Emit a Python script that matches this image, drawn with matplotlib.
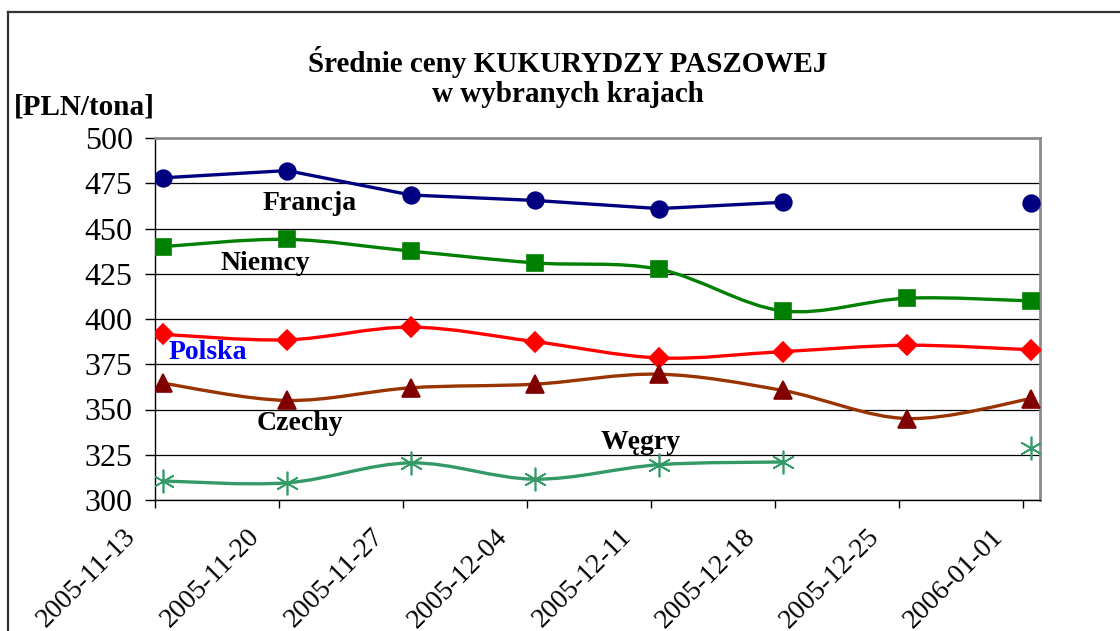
import datetime as dt
import matplotlib
matplotlib.use("Agg")
import matplotlib.pyplot as plt
import matplotlib.dates as mdates
from matplotlib.path import Path
from matplotlib.patches import PathPatch
from matplotlib.lines import Line2D
from matplotlib.transforms import ScaledTranslation

# dane (tygodniowe, PLN/tona)
daty = [dt.date(2005, 11, 13) + dt.timedelta(days=7 * i) for i in range(8)]
francja = [478, 482, 468.5, 465.5, 461, 464.5, None, 464]
niemcy = [440, 444, 437.5, 431, 427.5, 404.5, 411.5, 410]
polska = [391.5, 388.5, 395.5, 387.5, 378.5, 382, 385.5, 383]
czechy = [364.5, 355, 362, 364, 369.5, 360.5, 345, 356]
wegry = [310.5, 309.5, 320.5, 311.5, 319.5, 321, None, 328.5]

serif = "Liberation Serif"
OFFSET = 0.45  # punkty lekko na prawo od znacznikow osi


def krzywa(xs, ys):
    # gladka linia jak w Excelu (Catmull-Rom jako Bezier)
    verts = [(xs[0], ys[0])]
    codes = [Path.MOVETO]
    n = len(xs)
    for i in range(n - 1):
        x0, y0 = xs[max(i - 1, 0)], ys[max(i - 1, 0)]
        x1, y1 = xs[i], ys[i]
        x2, y2 = xs[i + 1], ys[i + 1]
        x3, y3 = xs[min(i + 2, n - 1)], ys[min(i + 2, n - 1)]
        verts += [(x1 + (x2 - x0) / 6, y1 + (y2 - y0) / 6),
                  (x2 - (x3 - x1) / 6, y2 - (y3 - y1) / 6),
                  (x2, y2)]
        codes += [Path.CURVE4] * 3
    return Path(verts, codes)


def seria(ax, wartosci, kolor, marker, ms, kolor_m=None, gladka=True):
    kolor_m = kolor_m or kolor
    xs = [mdates.date2num(d) + OFFSET for d in daty]
    # dzielimy na odcinki bez brakow
    odcinki, cur = [], []
    for x, y in zip(xs, wartosci):
        if y is None:
            if cur:
                odcinki.append(cur)
            cur = []
        else:
            cur.append((x, y))
    if cur:
        odcinki.append(cur)
    for od in odcinki:
        if len(od) < 2:
            continue
        ox, oy = zip(*od)
        if gladka:
            ax.add_patch(PathPatch(krzywa(ox, oy), fill=False, edgecolor=kolor,
                                   lw=2.4, zorder=3))
        else:
            ax.plot(ox, oy, color=kolor, lw=2.4, zorder=3)
    px = [x for x, y in zip(xs, wartosci) if y is not None]
    py = [y for y in wartosci if y is not None]
    ax.plot(px, py, ls="none", marker=marker, ms=ms, color=kolor_m,
            mec=kolor_m, mew=1.2, zorder=4)


fig = plt.figure(figsize=(11.2, 6.31), dpi=100)
ax = fig.add_axes([155 / 1120, 1 - 500 / 631, 885 / 1120, 362 / 631])

seria(ax, francja, "#000080", "o", 12, gladka=False)
seria(ax, niemcy, "#008000", "s", 11.5)
seria(ax, polska, "#FF0000", "D", 10)
seria(ax, czechy, "#993300", "^", 13, kolor_m="#800000")
seria(ax, wegry, "#339966", (6, 2, 0), 17)

start = mdates.date2num(daty[0])
ax.set_xlim(start, start + 49.96)
ax.set_ylim(300, 500)
ax.set_yticks(range(300, 501, 25))
ax.set_xticks([mdates.date2num(d) for d in daty])
ax.set_xticklabels([])
for lab in ax.get_yticklabels():
    lab.set_fontsize(23)
    lab.set_family(serif)

ax.tick_params(axis="x", direction="out", length=6, width=1)
ax.tick_params(axis="y", direction="out", length=7, width=1, pad=9)
ax.grid(axis="y", color="black", lw=0.9)
ax.set_axisbelow(True)
for s in ["top", "right"]:
    ax.spines[s].set_color("#8c8c8c")
    ax.spines[s].set_linewidth(2)
for s in ["left", "bottom"]:
    ax.spines[s].set_color("black")
    ax.spines[s].set_linewidth(1)

# podpisy dat (obrocone, lekko na lewo od znacznikow)
przes = ax.get_xaxis_transform() + ScaledTranslation(-0.32, -0.24, fig.dpi_scale_trans)
for d in daty:
    ax.text(mdates.date2num(d), 0, d.strftime("%Y-%m-%d"), transform=przes,
            rotation=45, ha="right", va="top", rotation_mode="anchor",
            fontsize=20, family=serif, clip_on=False)

# etykiety serii
etykiety = [("Francja", 8.75, 464, "black"),
            ("Niemcy", 6.2, 430.5, "black"),
            ("Polska", 3.0, 381.5, "#0000FF"),
            ("Czechy", 8.2, 342, "black"),
            ("Węgry", 27.4, 331.5, "black")]
for txt, dx, y, kol in etykiety:
    ax.text(start + dx, y, txt, ha="center", va="center", fontsize=20,
            fontweight="bold", family=serif, color=kol, zorder=5)

fig.text(568 / 1120, 1 - 62 / 631, "Średnie ceny KUKURYDZY PASZOWEJ", ha="center",
         va="center", fontsize=21, fontweight="bold", family=serif)
fig.text(568 / 1120, 1 - 95 / 631, "w wybranych krajach", ha="center",
         va="center", fontsize=21, fontweight="bold", family=serif)
fig.text(84 / 1120, 1 - 107 / 631, "[PLN/tona]", ha="center", va="center",
         fontsize=21, fontweight="bold", family=serif)

# ramka wykresu
fig.add_artist(Line2D([8 / 1120, 1.0], [1 - 12 / 631] * 2, transform=fig.transFigure,
                      color="#333333", lw=1.6))
fig.add_artist(Line2D([8 / 1120] * 2, [1 - 12 / 631, 0.0], transform=fig.transFigure,
                      color="#333333", lw=1.6))

fig.savefig("out.png", dpi=100)
